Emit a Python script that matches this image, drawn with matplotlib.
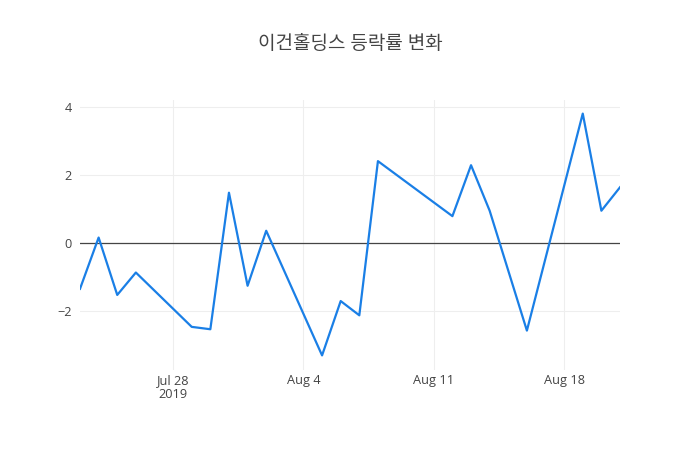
import matplotlib
matplotlib.use("Agg")
import matplotlib.pyplot as plt
import matplotlib.dates as mdates
import pandas as pd

plt.rcParams['font.family'] = ['Open Sans', 'Noto Sans CJK KR', 'DejaVu Sans']

# 날짜와 등락률 (%)
dates = ["2019-07-23", "2019-07-24", "2019-07-25", "2019-07-26", "2019-07-29",
         "2019-07-30", "2019-07-31", "2019-08-01", "2019-08-02", "2019-08-05",
         "2019-08-06", "2019-08-07", "2019-08-08", "2019-08-12", "2019-08-13",
         "2019-08-14", "2019-08-16", "2019-08-19", "2019-08-20", "2019-08-21"]
rates = [-1.35, 0.16, -1.53, -0.87, -2.47, -2.54, 1.48, -1.26, 0.36, -3.31,
         -1.71, -2.13, 2.41, 0.79, 2.29, 0.95, -2.58, 3.81, 0.95, 1.64]

tick_dates = ["2019-07-28", "2019-08-04", "2019-08-11", "2019-08-18"]
tick_labels = ["Jul 28\n2019", "Aug 4", "Aug 11", "Aug 18"]
y_ticks = [-2, 0, 2, 4]

x = pd.to_datetime(dates)

fig = plt.figure(figsize=(7, 4.5), dpi=100)
ax = fig.add_axes([80 / 700, 80 / 450, 540 / 700, 270 / 450])

ax.plot(x, rates, color='#1a7fe6', linewidth=1.6, zorder=3)
ax.axhline(0, color='#444444', linewidth=0.9, zorder=2)

ax.set_xlim(x[0], x[-1])
ax.set_ylim(-3.74, 4.21)

ax.set_xticks(mdates.date2num(pd.to_datetime(tick_dates)))
ax.set_xticklabels(tick_labels, linespacing=1.1)
ax.set_yticks(y_ticks)
ax.set_yticklabels([str(v).replace('-', '\u2212') for v in y_ticks])

ax.grid(True, color='#eeeeee', linewidth=0.8, zorder=0)
for s in ax.spines.values():
    s.set_visible(False)
ax.tick_params(length=0, labelsize=9.2, colors='#444444')
ax.tick_params(axis='x', pad=3)
ax.tick_params(axis='y', pad=6)

fig.suptitle('이건홀딩스 등락률 변화', x=0.5, y=1 - 44 / 450, va='center',
             fontsize=13.7, color='#444444')

fig.savefig('out.png', dpi=100)
